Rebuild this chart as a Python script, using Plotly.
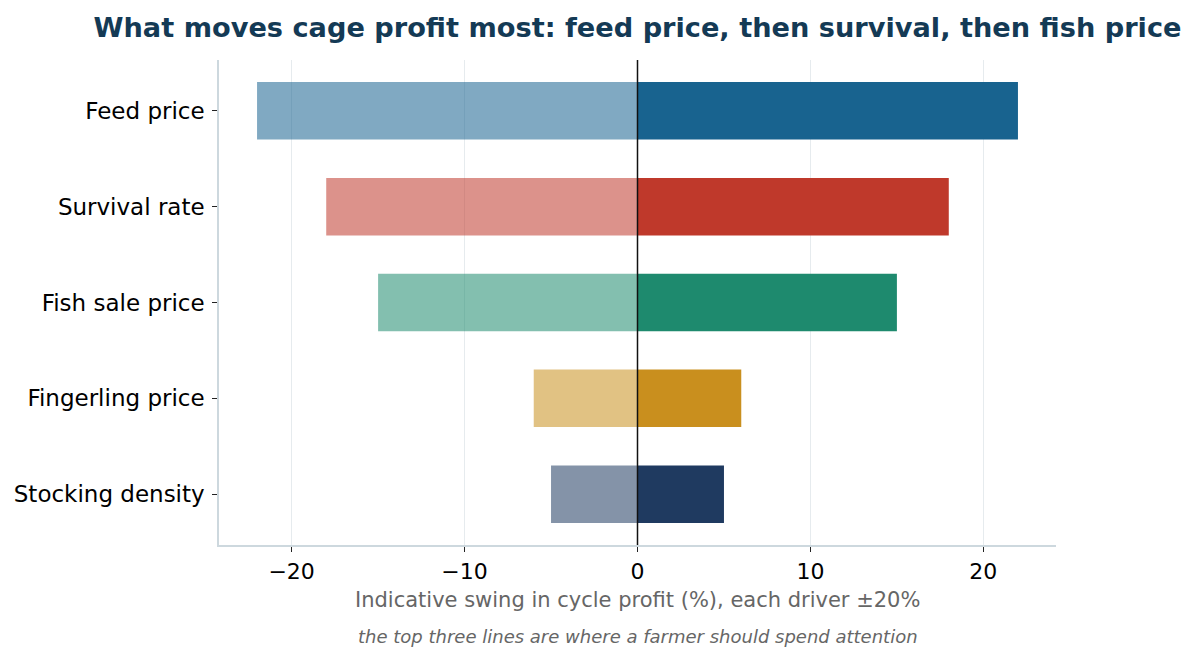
import plotly.graph_objects as go

drivers = ["Feed price", "Survival rate", "Fish sale price", "Fingerling price", "Stocking density"]
low_swing = [-22, -18, -15, -6, -5]
high_swing = [22, 18, 15, 6, 5]
colors = ["#18638f", "#bf392b", "#1e8a6e", "#c98f1e", "#1f3a60"]
xticks = [-20, -10, 0, 10, 20]

def rgba(hex_color, a):
    h = hex_color.lstrip("#")
    r, g, b = int(h[0:2], 16), int(h[2:4], 16), int(h[4:6], 16)
    return f"rgba({r},{g},{b},{a})"

pos = list(range(len(drivers)))

fig = go.Figure()
fig.add_trace(go.Bar(
    y=pos, x=low_swing, orientation="h", width=0.6,
    marker=dict(color=[rgba(c, 0.55) for c in colors], line=dict(width=0)),
    showlegend=False, hoverinfo="x+y"))
fig.add_trace(go.Bar(
    y=pos, x=high_swing, orientation="h", width=0.6,
    marker=dict(color=colors, line=dict(width=0)),
    showlegend=False, hoverinfo="x+y"))

fig.add_shape(type="line", xref="x", yref="paper", x0=0, x1=0, y0=0, y1=1,
              line=dict(color="#111111", width=1.5), layer="above")

fig.update_layout(
    width=1196, height=661,
    margin=dict(l=219, r=140, t=60, b=116),
    paper_bgcolor="white", plot_bgcolor="white",
    barmode="overlay",
    font=dict(family="DejaVu Sans", color="#000000"),
    title=dict(text="<b>What moves cage profit most: feed price, then survival, then fish price</b>",
               x=0.5, xref="paper", xanchor="center",
               y=1 - 27 / 661, yref="container", yanchor="middle",
               font=dict(size=27.2, color="#143a55", family="DejaVu Sans")),
    xaxis=dict(range=[-24.2, 24.2], tickvals=xticks,
               ticktext=["\u221220", "\u221210", "0", "10", "20"],
               tickfont=dict(size=22, color="#000000"),
               showgrid=True, gridcolor="#e6ebee", gridwidth=1.2,
               zeroline=False,
               showline=True, linecolor="#cdd8de", linewidth=1.5, mirror=False,
               ticks="outside", ticklen=5, tickcolor="#222222", tickwidth=1,
               ticklabelstandoff=1),
    yaxis=dict(range=[4.53, -0.53], tickvals=pos, ticktext=drivers,
               tickfont=dict(size=23, color="#000000"),
               showgrid=False, zeroline=False,
               showline=True, linecolor="#cdd8de", linewidth=1.5, mirror=False,
               ticks="outside", ticklen=5, tickcolor="#222222", tickwidth=1,
               ticklabelstandoff=3),
    annotations=[
        dict(text="Indicative swing in cycle profit (%), each driver \u00b120%",
             xref="paper", yref="paper", x=0.5, y=0, yanchor="middle",
             yshift=-55, showarrow=False,
             font=dict(size=21, color="#666666", family="DejaVu Sans")),
        dict(text="<i>the top three lines are where a farmer should spend attention</i>",
             xref="paper", yref="paper", x=0.5, y=0, yanchor="middle",
             yshift=-91, showarrow=False,
             font=dict(size=18, color="#666666", family="DejaVu Sans")),
    ],
)

fig.write_html("out.html")
